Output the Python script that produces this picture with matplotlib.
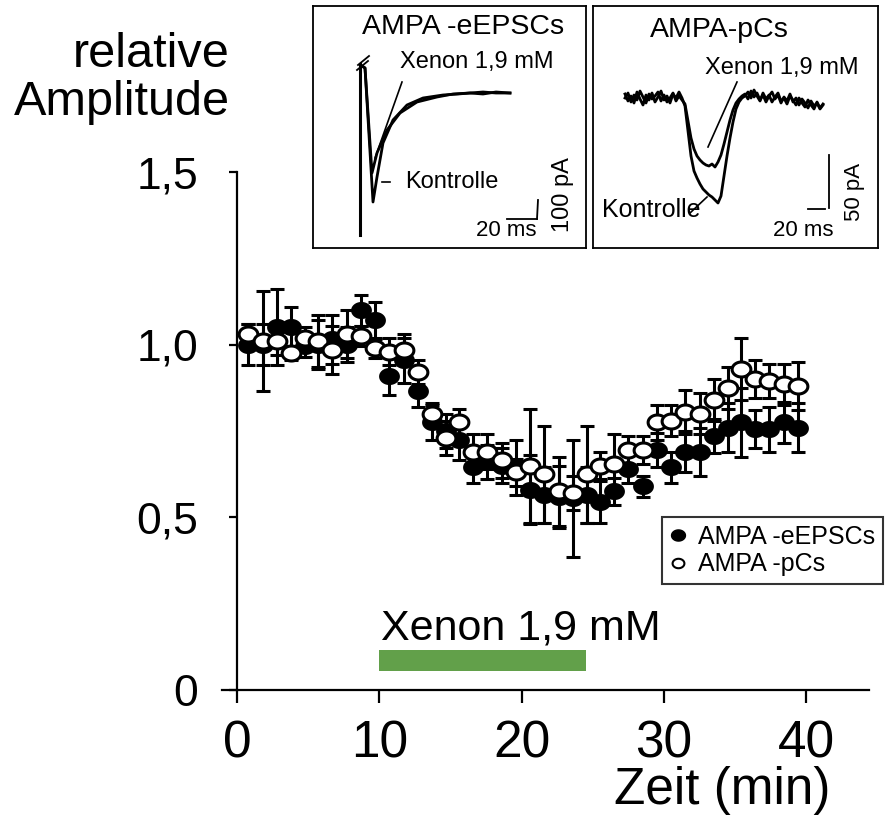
import numpy as np
import matplotlib
matplotlib.use('Agg')
import matplotlib.pyplot as plt
from matplotlib.path import Path
from matplotlib.lines import Line2D
from matplotlib import font_manager

# --- Zeitverlauf (min) und relative Amplituden ---
times = [0.8, 1.8, 2.8, 3.8, 4.8, 5.7, 6.7, 7.7, 8.7, 9.7,
         10.7, 11.7, 12.7, 13.7, 14.7, 15.6, 16.6, 17.6, 18.6, 19.6,
         20.6, 21.6, 22.6, 23.6, 24.6, 25.5, 26.5, 27.5, 28.5, 29.5,
         30.5, 31.5, 32.5, 33.5, 34.5, 35.4, 36.4, 37.4, 38.4, 39.4]

epsc_mean = [1.00, 1.00, 1.05, 1.05, 0.995, 1.00, 1.015, 1.00, 1.10, 1.07,
             0.91, 0.955, 0.865, 0.775, 0.75, 0.725, 0.645, 0.66, 0.65, 0.645,
             0.58, 0.565, 0.56, 0.555, 0.565, 0.545, 0.575, 0.64, 0.59, 0.695,
             0.645, 0.69, 0.69, 0.735, 0.76, 0.775, 0.755, 0.755, 0.775, 0.76]
epsc_sem = [0.06, 0.06, 0.11, 0.06, 0.03, 0.07, 0.07, 0.05, 0.045, 0.055,
            0.055, 0.065, 0.045, 0.05, 0.05, 0.06, 0.045, 0.05, 0.05, 0.08,
            0.10, 0.08, 0.09, 0.17, 0.08, 0.06, 0.04, 0.04, 0.03, 0.05,
            0.045, 0.06, 0.07, 0.05, 0.07, 0.10, 0.055, 0.065, 0.06, 0.07]

pc_mean = [1.03, 1.01, 1.01, 0.975, 1.02, 1.01, 0.985, 1.03, 1.025, 0.99,
           0.98, 0.985, 0.92, 0.80, 0.73, 0.775, 0.69, 0.69, 0.665, 0.63,
           0.65, 0.625, 0.575, 0.57, 0.625, 0.65, 0.655, 0.695, 0.695, 0.775,
           0.78, 0.805, 0.80, 0.84, 0.875, 0.93, 0.90, 0.895, 0.885, 0.88]
pc_sem = [0.03, 0.145, 0.04, 0.02, 0.03, 0.075, 0.07, 0.07, 0.03, 0.03,
          0.04, 0.045, 0.035, 0.03, 0.05, 0.04, 0.05, 0.05, 0.05, 0.04,
          0.165, 0.14, 0.10, 0.05, 0.14, 0.04, 0.085, 0.04, 0.04, 0.05,
          0.045, 0.065, 0.06, 0.06, 0.06, 0.09, 0.055, 0.05, 0.06, 0.07]

xenon_start = 10.0
xenon_end = 24.5

# --- Beispielspuren (lokale Einheiten der Insets) ---
epsc_art_x = [47, 47]
epsc_art_y = [229, 58]
epsc_ctrl_x = [49, 52, 60, 64, 70, 80, 94, 110, 130, 145, 157, 170, 183, 197]
epsc_ctrl_y = [60, 62, 196, 171, 137, 114, 99, 92, 89, 88, 87, 88, 86, 87]
epsc_xe_x = [49, 52, 59, 64, 74, 87, 104, 124, 140, 157, 170, 183, 197]
epsc_xe_y = [60, 62, 167, 147, 124, 107, 96, 91, 88, 87, 86, 87, 87]

pc_x = [32, 35, 38, 41, 44, 47, 50, 53, 56, 59, 62, 65, 68, 71, 74, 77, 80, 83, 86, 89,
        92, 95, 98, 101, 104, 107, 110, 113, 116, 119, 122, 125, 128, 131, 134, 137, 140, 143, 146, 149,
        152, 155, 158, 161, 164, 167, 170, 173, 176, 179, 182, 185, 188, 191, 194, 197, 200, 203, 206,
        209, 212, 215, 218, 221, 224, 227, 230]
pc_ctrl = [88, 95, 90, 97, 86, 93, 99, 89, 94, 87, 96, 91, 85, 94, 90, 97, 88, 92, 86, 92,
           100, 125, 150, 165, 172, 178, 183, 186, 189, 191, 194, 197, 190, 170, 150, 132, 116, 103, 96, 92,
           90, 86, 92, 84, 90, 95, 87, 93, 89, 96, 91, 87, 95, 92, 98, 90, 94, 99, 92,
           97, 101, 94, 99, 103, 96, 102, 98]
pc_xe = [92, 87, 96, 89, 94, 85, 91, 97, 88, 93, 90, 86, 95, 89, 96, 92, 87, 95, 90, 94,
         98, 115, 132, 143, 150, 154, 157, 159, 160, 158, 161, 156, 149, 138, 126, 114, 104, 97, 93, 90,
         88, 93, 85, 91, 87, 94, 89, 96, 90, 86, 93, 89, 97, 91, 95, 88, 96, 92, 99,
         93, 97, 102, 95, 100, 97, 103, 99]

names = {f.name for f in font_manager.fontManager.ttflist}
plt.rcParams['font.family'] = ['Liberation Sans', 'DejaVu Sans']
if 'Liberation Sans Narrow' in names:
    narrow = dict(family=['Liberation Sans Narrow', 'Liberation Sans'], size=43)
else:
    narrow = dict(family=['Liberation Sans', 'DejaVu Sans'], size=37)

W, H = 889, 818
fig = plt.figure(figsize=(W / 100, H / 100), dpi=100)
ax = fig.add_axes([222 / W, 1 - 690 / H, (869 - 222) / W, (690 - 172) / H])

th = np.linspace(0, 2 * np.pi, 61)
ell = Path(np.column_stack([np.cos(th), 0.8 * np.sin(th)]), closed=True)

ax.errorbar(times, epsc_mean, yerr=epsc_sem, fmt='none', ecolor='black',
            elinewidth=2.2, capsize=4.8, capthick=2.2, zorder=2)
ax.plot(times, epsc_mean, ls='none', marker=ell, ms=13.5, mfc='black', mec='black',
        mew=1.5, zorder=3)
ax.errorbar(times, pc_mean, yerr=pc_sem, fmt='none', ecolor='black',
            elinewidth=2.2, capsize=4.8, capthick=2.2, zorder=4)
ax.plot(times, pc_mean, ls='none', marker=ell, ms=13.5, mfc='white', mec='black',
        mew=2.2, zorder=5)

ax.broken_barh([(xenon_start, xenon_end - xenon_start)], (0.055, 0.06),
               facecolors='#62a04a', edgecolor='none', zorder=1)
ax.text(xenon_start + 0.1, 0.145, 'Xenon 1,9 mM', fontsize=31, va='baseline')

ax.set_xlim(-1.05, 44.4)
ax.set_ylim(0, 1.5)
ax.spines['left'].set_position(('data', 0))
ax.spines['top'].set_visible(False)
ax.spines['right'].set_visible(False)
for s in ['left', 'bottom']:
    ax.spines[s].set_linewidth(1.6)
ax.set_xticks([0, 10, 20, 30, 40])
ax.set_xticklabels(['0', '10', '20', '30', '40'], **narrow)
ax.set_yticks([0, 0.5, 1.0, 1.5])
ax.set_yticklabels(['0', '0,5', '1,0', '1,5'])
ax.tick_params(axis='y', direction='out', length=6, width=1.6, pad=22, labelsize=32)
ax.tick_params(axis='x', direction='out', length=9, width=1.6, pad=12)

fig.text(830 / W, 1 - 766 / H, 'Zeit (min)', ha='right', va='top', **narrow)
fig.text(230 / W, 1 - 67 / H, 'relative', ha='right', va='baseline', fontsize=35)
fig.text(230 / W, 1 - 115 / H, 'Amplitude', ha='right', va='baseline', fontsize=35)

handles = [Line2D([], [], ls='none', marker=ell, ms=10, mfc='black', mec='black'),
           Line2D([], [], ls='none', marker=ell, ms=8.5, mfc='white', mec='black', mew=1.5)]
leg = fig.legend(handles, ['AMPA -eEPSCs', 'AMPA -pCs'], loc='upper left',
                 bbox_to_anchor=(662 / W, 1 - 517 / H), frameon=True, fancybox=False,
                 edgecolor='black', fontsize=18, handlelength=0.7, handletextpad=0.45,
                 borderpad=0.3, labelspacing=0.15, borderaxespad=0)
leg.get_frame().set_linewidth(1.5)


def make_inset(x0, x1):
    a = fig.add_axes([x0 / W, 1 - 248 / H, (x1 - x0) / W, 242 / H])
    a.set_xlim(0, x1 - x0)
    a.set_ylim(242, 0)
    a.set_xticks([])
    a.set_yticks([])
    for s in a.spines.values():
        s.set_linewidth(1.3)
    return a


# Inset AMPA-eEPSCs
a1 = make_inset(313, 586)
a1.plot(epsc_art_x, epsc_art_y, color='black', lw=2.2)
a1.plot([44, 55], [64, 55], color='black', lw=1.3)
a1.plot([45, 56], [59, 50], color='black', lw=1.3)
a1.plot(epsc_ctrl_x, epsc_ctrl_y, color='black', lw=2)
a1.plot(epsc_xe_x, epsc_xe_y, color='black', lw=2)
a1.text(49, 21, 'AMPA -eEPSCs', fontsize=20.5, va='center')
a1.text(87, 56, 'Xenon 1,9 mM', fontsize=17, va='center')
a1.plot([89, 62], [76, 152], color='black', lw=1.2)
a1.plot([69, 77], [176, 176], color='black', lw=1.2)
a1.text(92, 176, 'Kontrolle', fontsize=17, va='center')
a1.plot([194, 224], [213, 213], color='black', lw=1.3)
a1.plot([224, 225], [213, 194], color='black', lw=1.3)
a1.text(193, 225, '20 ms', fontsize=16, ha='center', va='center')
a1.text(250, 189, '100 pA', fontsize=17, ha='center', va='center', rotation=90)

# Inset AMPA-pCs
a2 = make_inset(593, 878)
a2.plot(pc_x, pc_ctrl, color='black', lw=2)
a2.plot(pc_x, pc_xe, color='black', lw=2)
a2.text(57, 24, 'AMPA-pCs', fontsize=20.5, va='center')
a2.text(112, 62, 'Xenon 1,9 mM', fontsize=17, va='center')
a2.plot([144, 115], [76, 141], color='black', lw=1.2)
a2.text(9, 204, 'Kontrolle', fontsize=18, va='center')
a2.plot([97, 114], [207, 191], color='black', lw=1.2)
a2.plot([215, 232], [203, 203], color='black', lw=1.3)
a2.plot([236, 236], [149, 202], color='black', lw=1.3)
a2.text(210, 225, '20 ms', fontsize=16, ha='center', va='center')
a2.text(262, 186, '50 pA', fontsize=16, ha='center', va='center', rotation=90)

fig.savefig('out.png', dpi=100)
